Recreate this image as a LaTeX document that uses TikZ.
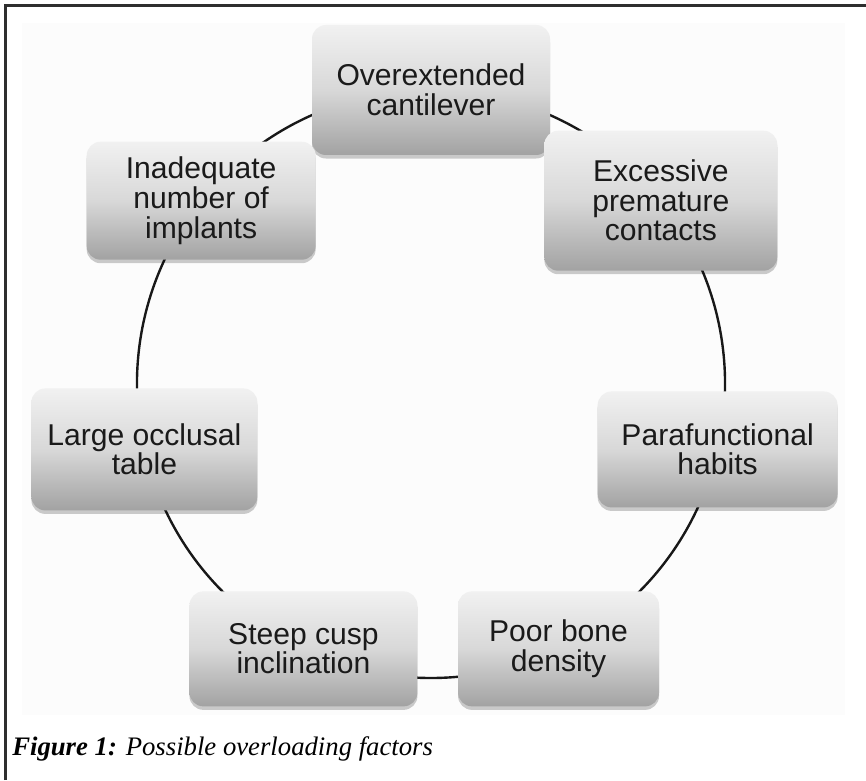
\documentclass[tikz,border=0pt]{standalone}
\usepackage{fontspec}
\setmainfont{Liberation Serif}
\setsansfont{Liberation Sans}
\usetikzlibrary{positioning, calc, backgrounds, shadows}
\definecolor{framegray}{HTML}{2E2E2E}
\definecolor{panelgray}{HTML}{FCFCFC}
\definecolor{boxtop}{HTML}{F1F1F1}
\definecolor{boxmid}{HTML}{D8D8D8}
\definecolor{boxbot}{HTML}{A2A2A2}
\definecolor{linkgray}{HTML}{181818}
\definecolor{textgray}{HTML}{1A1A1A}

\begin{document}
\begin{tikzpicture}[
    factor/.style={rounded corners=0.35cm, top color=boxtop, bottom color=boxbot, middle color=boxmid,
        align=center, inner sep=0pt, text=textgray,
        font=\sffamily\fontsize{21.4}{21}\selectfont,
        drop shadow={shadow xshift=0pt, shadow yshift=-2.5pt, fill=black, opacity=0.2}},
    link/.style={line width=1.7pt, linkgray},
]
    \useasboundingbox (0,0) rectangle (21.65,19.5);

    % Frame
    \draw[line width=1.9pt, framegray] (0.1375,0) -- (0.1375,19.3625) -- (21.65,19.3625);

    % Cycle of factors
    \coordinate (hub) at (10.775,9.9);
    \node[factor, minimum width=5.95cm, minimum height=3.25cm] (cantilever) at ($(hub)+(90:7.35)$) {Overextended\\cantilever};
    \node[factor, minimum width=5.825cm, minimum height=3.5cm] (premature) at ($(hub)+(38.571:7.35)$) {Excessive\\premature\\contacts};
    \node[factor, minimum width=6cm, minimum height=2.9cm] (habits) at ($(hub)+(-12.857:7.35)$) {Parafunctional\\habits};
    \node[factor, minimum width=5.025cm, minimum height=2.875cm] (density) at ($(hub)+(-64.286:7.35)$) {Poor bone\\density};
    \node[factor, minimum width=5.7cm, minimum height=2.875cm] (cusp) at ($(hub)+(-115.714:7.35)$) {Steep cusp\\inclination};
    \node[factor, minimum width=5.65cm, minimum height=3.05cm] (table) at ($(hub)+(192.857:7.35)$) {Large occlusal\\table};
    \node[factor, minimum width=5.725cm, minimum height=2.95cm] (implants) at ($(hub)+(141.429:7.35)$) {Inadequate\\number of\\implants};

    % Panel and ring behind the boxes
    \begin{scope}[on background layer]
        \fill[panelgray] (0.55,1.625) rectangle (21.125,18.925);
        \foreach \from/\to in {cantilever/premature, premature/habits, habits/density, density/cusp,
                cusp/table, table/implants, implants/cantilever}
            \draw[link] (\from.center) to[bend left=25.714, looseness=0.9] (\to.center);
    \end{scope}

    % Caption
    \node[anchor=base west, font=\fontsize{19}{22}\selectfont, inner sep=0pt] (caption) at (0.3,0.625)
        {\textbf{\textit{Figure 1:}} \textit{Possible overloading factors}};
\end{tikzpicture}
\end{document}
